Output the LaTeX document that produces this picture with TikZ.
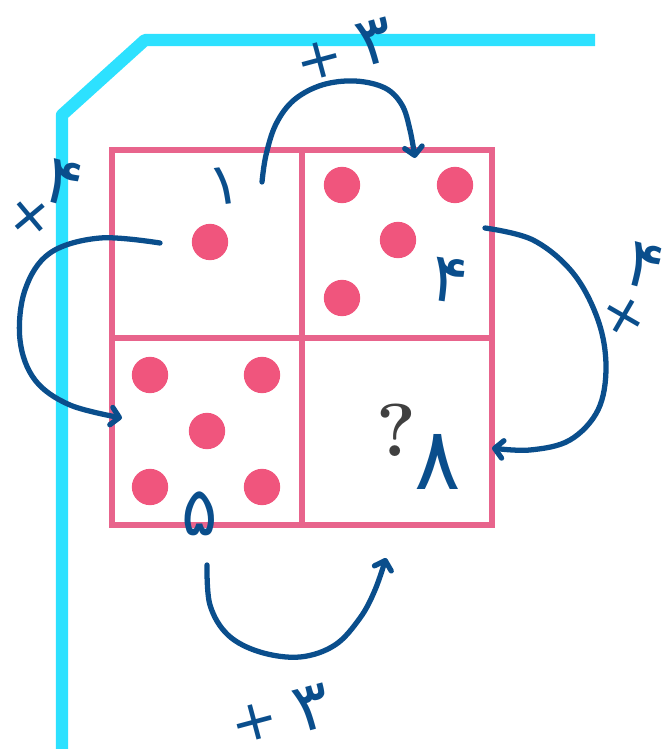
\documentclass[tikz,border=0pt]{standalone}
\usepackage{fontspec}
\newfontfamily\fa[Script=Arabic]{DejaVu Sans}
\newfontfamily\dv{DejaVu Sans}
\usetikzlibrary{arrows.meta}
\definecolor{cyanl}{RGB}{45,225,255}
\definecolor{pinkl}{RGB}{232,100,140}
\definecolor{pinkd}{RGB}{240,85,125}
\definecolor{penblue}{RGB}{10,78,140}
\tikzset{
  grid/.style={draw=pinkl,line width=4.3pt},
  dot/.style={circle,fill=pinkd,inner sep=0pt,minimum size=31pt},
  pen/.style={draw=penblue,line width=4.5pt,line cap=round,line join=round},
  penarrow/.style={pen,-{Straight Barb[length=7pt,width=15pt,round]}},
  hand/.style={text=penblue,inner sep=0pt,font=\fa\fontsize{58}{58}\selectfont},
  plus/.style={text=penblue,inner sep=0pt,font=\dv\fontsize{48}{48}\selectfont},
}
\begin{document}
\begin{tikzpicture}[x=0.03cm,y=-0.03cm]
\useasboundingbox (0,0) rectangle (666,749);
% cyan frame
\draw[cyanl,line width=10.5pt,line join=round] (595,40) -- (145,40) -- (62,115) -- (62,760);
% grid
\draw[grid] (112,150) rectangle (492,525);
\draw[grid] (302,150) -- (302,525);
\draw[grid] (112,338) -- (492,338);
% dots
\node[dot] (d1) at (210,242) {};
\node[dot] (d2) at (342,185) {};
\node[dot] (d3) at (455,185) {};
\node[dot] (d4) at (398,240) {};
\node[dot] (d5) at (342,298) {};
\node[dot] (d6) at (150,375) {};
\node[dot] (d7) at (262,375) {};
\node[dot] (d8) at (207,431) {};
\node[dot] (d9) at (150,487) {};
\node[dot] (d10) at (262,487) {};
\node[inner sep=0pt,font=\bfseries\fontsize{64}{64}\selectfont,text=black!75] (q) at (396,430) {?};
% handwritten arrows
\coordinate (a1s) at (262,182);
\coordinate (a1e) at (415,158);
\draw[penarrow] plot[smooth,tension=0.6] coordinates {(a1s) (266,155) (276,124) (294,100) (322,85) (355,81) (385,88) (402,105) (410,130) (a1e)};
\coordinate (a2s) at (160,243);
\coordinate (a2e) at (122,418);
\draw[penarrow] plot[smooth,tension=0.6] coordinates {(a2s) (100,238) (50,253) (25,290) (20,340) (35,380) (70,405) (a2e)};
\coordinate (a3s) at (485,228);
\coordinate (a3e) at (492,448);
\draw[penarrow] plot[smooth,tension=0.6] coordinates {(a3s) (533,240) (573,273) (598,320) (606,367) (598,410) (570,440) (530,450) (a3e)};
\coordinate (a4s) at (207,565);
\coordinate (a4e) at (386,558);
\draw[penarrow] plot[smooth,tension=0.6] coordinates {(a4s) (210,605) (228,635) (260,652) (300,657) (335,645) (360,618) (375,590) (a4e)};
% handwritten labels
\node[plus,rotate=15] (p1) at (320,60) {+};
\node[hand,rotate=15] (n1) at (376,42) {۳};
\node[plus,rotate=40] (p2) at (30,217) {+};
\node[hand,rotate=-15] (n2) at (64,183) {۴};
\node[plus,rotate=60] (p3) at (624,316) {+};
\node[hand,rotate=-15] (n3) at (645,266) {۴};
\node[plus,rotate=15] (p4) at (255,722) {+};
\node[hand,rotate=15] (n4) at (313,708) {۳};
\node[hand,rotate=8,font=\fa\fontsize{50}{50}\selectfont] (l1) at (224,186) {۱};
\node[hand,rotate=-8] (l2) at (450,280) {۴};
\node[hand] (l3) at (200,514) {۵};
\node[hand,font=\fa\fontsize{74}{74}\selectfont] (l4) at (438,462) {۸};
\end{tikzpicture}
\end{document}
